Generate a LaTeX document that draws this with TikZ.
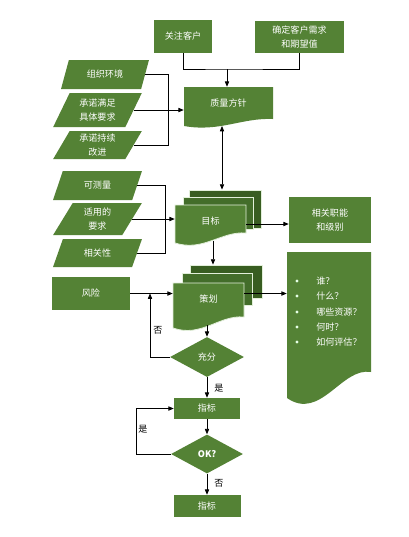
\documentclass[tikz,border=0pt]{standalone}
\usepackage{fontspec}
\setmainfont{Noto Sans CJK SC}
\usetikzlibrary{shapes.geometric,arrows.meta,calc}
\definecolor{gmain}{HTML}{548235}
\definecolor{gdark}{HTML}{385D21}
\definecolor{gmid}{HTML}{436D2A}
\definecolor{gline}{HTML}{E2EFDA}
\newcommand\docshape[6]{\filldraw[#6] (#1,#2) -- (#3,#2) -- (#3,{#4-#5}) .. controls ({#1+0.65*(#3-#1)},{#4-1.2*#5}) and ({#1+0.4*(#3-#1)},{#4+0.9*#5}) .. (#1,#4) -- cycle;}
\begin{document}
\begin{tikzpicture}[x=0.75pt,y=-0.75pt,
  every node/.style={font=\fontsize{6.8}{11}\selectfont, text=white, inner sep=0pt, align=center},
  box/.style={rectangle, fill=gmain},
  para/.style={trapezium, trapezium left angle=65, trapezium right angle=115, trapezium stretches=true, fill=gmain},
  sheet/.style={rectangle, draw=gline, line width=0.6pt},
  docnode/.style={rectangle},
  dia/.style={diamond, fill=gmain},
  lbl/.style={text=black},
  conn/.style={line width=0.6pt, draw=black},
  arr/.style={conn, ->},
  >={Triangle[length=4pt,width=3.2pt]},
]
\fill[white] (0,0) rectangle (409,537);
\useasboundingbox (0,0) rectangle (409,537);

% top boxes
\node[box, minimum width=43.5pt, minimum height=24.75pt] (kehu) at (183,36.5) {关注客户};
\node[box, minimum width=66.75pt, minimum height=24pt] (xuqiu) at (299.5,37) {确定客户需求\\和期望值};

% quality policy
\docshape{184}{87}{273}{126}{7}{fill=gmain, draw=none}
\node[docnode, minimum width=66.75pt, minimum height=29.25pt, text depth=6pt] (zhengce) at (228.5,106.5) {质量方针};

% parallelograms group 1
\node[para, minimum width=66pt, minimum height=21.75pt] (p1) at (105,74.5) {组织环境};
\node[para, minimum width=66.75pt, minimum height=25.5pt] (p2) at (97.5,110) {承诺满足\\具体要求};
\node[para, minimum width=66.75pt, minimum height=21pt] (p3) at (97.5,145) {承诺持续\\改进};

% parallelograms group 2
\node[para, minimum width=66.75pt, minimum height=21.75pt] (q1) at (97.5,185.5) {可测量};
\node[para, minimum width=66.75pt, minimum height=24pt] (q2) at (97.5,219) {适用的\\要求};
\node[para, minimum width=66.75pt, minimum height=21pt] (q3) at (97.5,253) {相关性};

% objective stack
\node[sheet, fill=gdark, minimum width=54pt, minimum height=28.5pt] (mbback) at (225,209) {};
\node[sheet, fill=gmid, minimum width=52.5pt, minimum height=24pt] (mbmid) at (218,213) {};
\docshape{175}{205}{246}{243}{10}{fill=gmain, draw=gline, line width=0.6pt}
\node[docnode, minimum width=53.25pt, minimum height=28.5pt, text depth=5pt] (mubiao) at (210.5,224) {目标};

\node[box, minimum width=61.5pt, minimum height=34.5pt] (zhineng) at (330,220) {相关职能\\和级别};

% risk
\node[box, minimum width=58.5pt, minimum height=24.75pt] (fengxian) at (91,293.5) {风险};

% planning stack
\node[sheet, fill=gdark, minimum width=54pt, minimum height=24.75pt] (chback) at (226,281.5) {};
\node[sheet, fill=gmid, minimum width=52.5pt, minimum height=24pt] (chmid) at (217,289) {};
\docshape{173}{283}{244}{328}{11}{fill=gmain, draw=gline, line width=0.6pt}
\node[docnode, minimum width=53.25pt, minimum height=33.75pt, text depth=10pt] (cehua) at (208.5,305.5) {策划};

% bullet document
\docshape{287}{252}{371}{398}{26}{fill=gmain, draw=none}
\node[docnode, minimum width=63pt, minimum height=109.5pt] (bullets) at (329,325) {};
\foreach \t/\y [count=\i] in {谁？/281, 什么？/296, 哪些资源？/312, 何时？/327, 如何评估？/342}{
  \node[circle, fill=white!90!green, minimum size=2.4pt] (d\i) at (297,\y) {};
  \node[anchor=west] (b\i) at (316,\y) {\t};
}

% decision and indicators
\node[dia, minimum width=55.5pt, minimum height=30pt] (chongfen) at (207,357) {充分};
\node[box, minimum width=49.5pt, minimum height=15.75pt] (zhibiao1) at (207,408.5) {指标};
\node[dia, minimum width=54pt, minimum height=29.25pt, font=\fontsize{6.8}{11}\selectfont\bfseries] (ok) at (207,454) {OK?};
\node[box, minimum width=50.25pt, minimum height=16.5pt] (zhibiao2) at (207,506) {指标};

% labels
\node[lbl] (n1) at (158,330) {否};
\node[lbl] (y1) at (219,388) {是};
\node[lbl] (y2) at (143,429) {是};
\node[lbl] (n2) at (219,483) {否};

% helper coordinates
\coordinate (j) at (227,69);
\coordinate (bx1) at (168,0);
\coordinate (bx2) at (165,0);
\coordinate (c1) at (222,126);
\coordinate (c2) at (213,241);
\coordinate (c3) at (207,325);
\coordinate (fb) at (150,293.5);
\coordinate (lb) at (136,0);

% connectors
\draw[conn] (kehu.south) |- (j) -| (xuqiu.south);
\draw[arr] (j) -- (j |- zhengce.north);
\draw[conn] (p1.east) -| (bx1 |- p3.east) -- (p3.east);
\draw[arr] (p2.east) -- (p2.east -| zhengce.west);
\draw[conn] (q1.east) -| (bx2 |- q3.east) -- (q3.east);
\draw[arr] (q2.east) -- (q2.east -| mubiao.west);
\draw[conn, <->] (c1) -- (c1 |- mbback.north);
\draw[arr] (mubiao.east) -- (mubiao.east -| zhineng.west);
\draw[arr] (c2) -- (c2 |- chback.north);
\draw[arr] (fengxian.east) -- (fengxian.east -| cehua.west);
\draw[arr] (cehua.east |- fengxian.east) -- (bullets.west |- fengxian.east);
\draw[arr] (c3) -- (chongfen.north);
\draw[arr] (chongfen.west) -| (fb);
\draw[arr] (chongfen.south) -- (zhibiao1.north);
\draw[arr] (zhibiao1.south) -- (ok.north);
\draw[arr] (ok.west) -| (lb |- zhibiao1.west) -- (zhibiao1.west);
\draw[arr] (ok.south) -- (zhibiao2.north);
\end{tikzpicture}
\end{document}
